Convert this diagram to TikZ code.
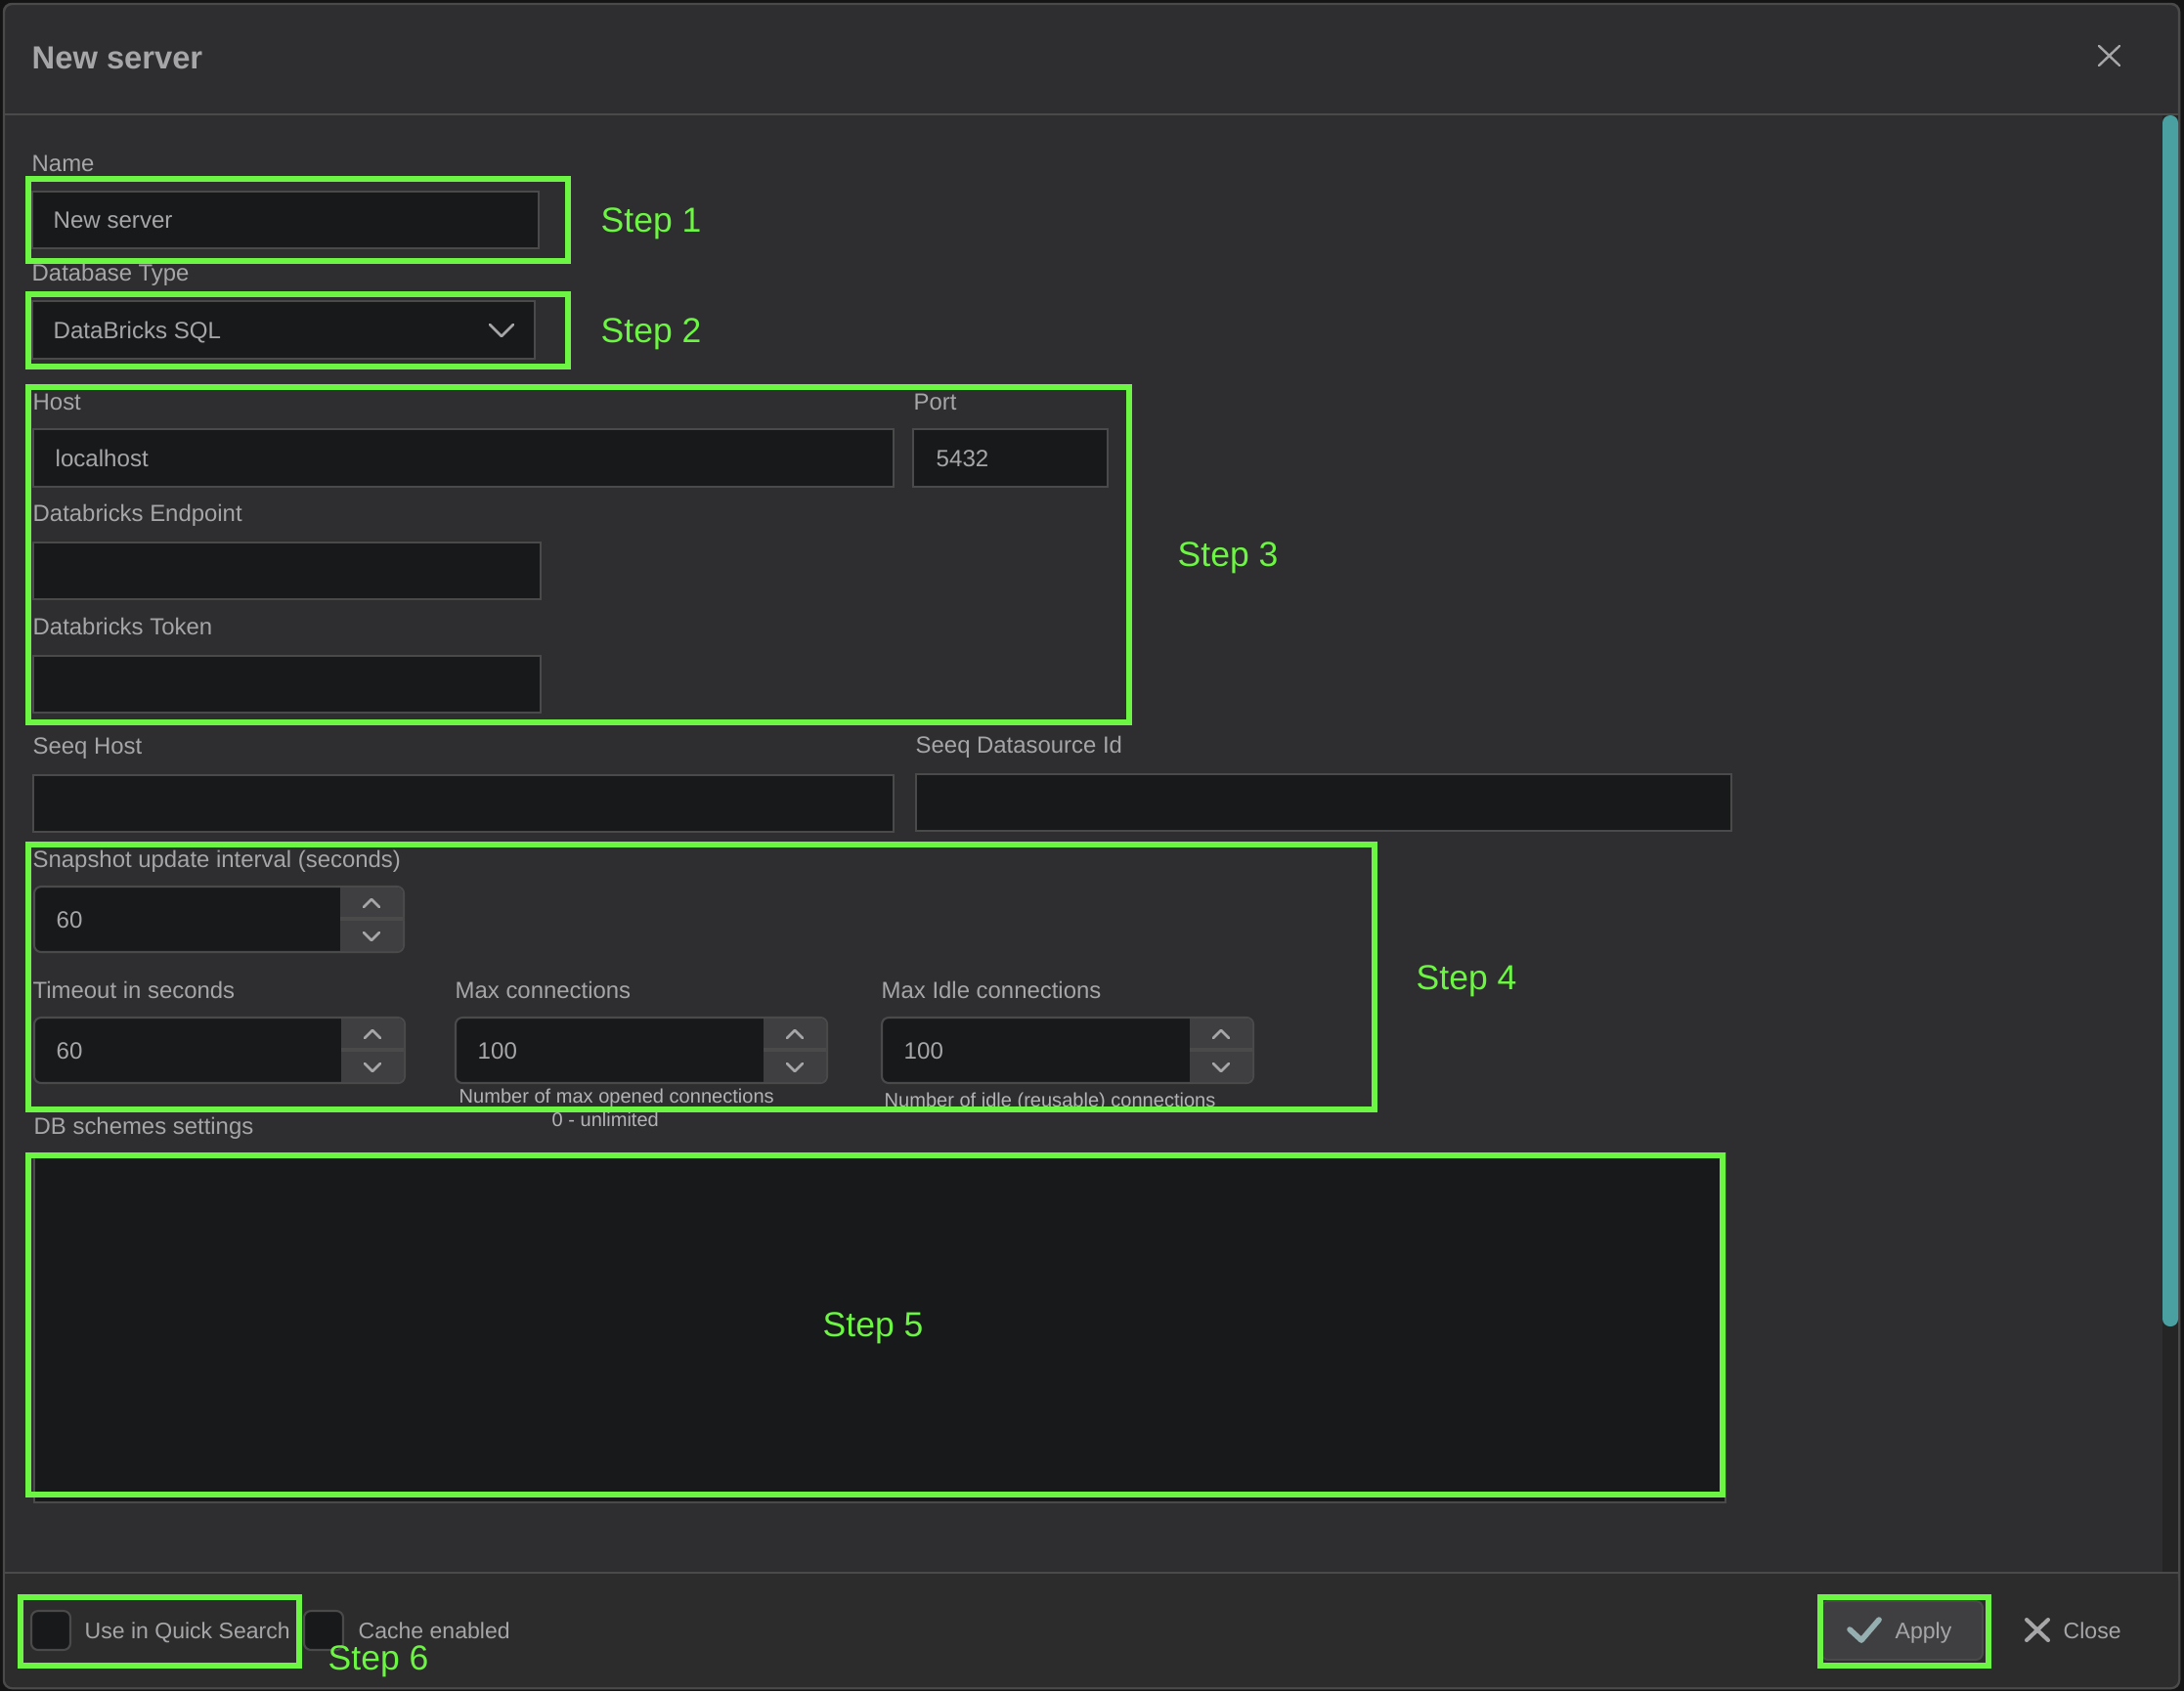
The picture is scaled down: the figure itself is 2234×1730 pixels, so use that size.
\documentclass[tikz,border=0pt]{standalone}
\usepackage{fontspec}
\setmainfont{Liberation Sans}
\usepackage{xcolor}

\definecolor{backdrop}{HTML}{141415}
\definecolor{panelbg}{HTML}{2E2E30}
\definecolor{footbg}{HTML}{2C2C2D}
\definecolor{fieldbg}{HTML}{18191B}
\definecolor{edgegray}{HTML}{4A4A4B}
\definecolor{btngray}{HTML}{3F3F41}
\definecolor{textgray}{HTML}{A6A6A8}
\definecolor{stepgreen}{HTML}{6CF542}
\definecolor{thumbteal}{HTML}{4A9FA1}
\definecolor{trackgray}{HTML}{252525}

\tikzset{
  fieldbox/.style={draw=edgegray, line width=0.6pt, fill=fieldbg},
  stepbox/.style={draw=stepgreen, line width=1.6pt},
  stepnote/.style={anchor=base west, inner sep=0pt, text=stepgreen, font=\fontsize{10.1}{12}\selectfont},
  lbl/.style={anchor=base west, inner sep=0pt, text=textgray, font=\fontsize{6.8}{8}\selectfont},
  val/.style={anchor=base west, inner sep=0pt, text=textgray, font=\fontsize{6.85}{9}\selectfont},
  hint/.style={anchor=base west, inner sep=0pt, text=textgray!85!white, font=\fontsize{5.7}{7}\selectfont},
  foot/.style={anchor=base west, inner sep=0pt, text=textgray, font=\fontsize{6.55}{8}\selectfont},
  chev/.style={draw=textgray, line width=0.75pt, line cap=round, line join=round},
}

\begin{document}
\begin{tikzpicture}[x=0.01cm, y=-0.01cm]
  \useasboundingbox (0,0) rectangle (2234,1730);
  % Backdrop and dialog
  \fill[backdrop] (0,0) rectangle (2234,1730);
  \draw[edgegray, line width=0.7pt, fill=panelbg, rounded corners=2.3pt] (4,4) rectangle (2229,1727);
  \fill[footbg, rounded corners=2.3pt] (5,1609) -- (5,1726) -- (2228,1726) -- (2228,1609) [sharp corners] -- cycle;
  \draw[edgegray, line width=0.57pt] (4,117) -- (2229,117);
  \draw[edgegray, line width=0.57pt] (4,1609) -- (2229,1609);

  % Scrollbar
  \fill[trackgray] (2212,118) rectangle (2228,1608);
  \fill[thumbteal, rounded corners=2.2pt] (2212,118) rectangle (2228,1357);

  % Title
  \node[anchor=base west, inner sep=0pt, text=textgray, font=\fontsize{9.3}{11}\bfseries\selectfont] (title) at (32,70) {New server};
  \draw[textgray, line width=0.68pt, line cap=round] (2147,47) -- (2168,67) (2168,47) -- (2147,67);

  % Plain fields
  \foreach \xa/\ya/\xb/\yb in {33/196/551/254, 33/308/547/367, 34/439/914/498, 934/439/1133/498,
    34/555/553/613, 34/671/553/729, 34/793/914/851, 937/792/1771/850, 35/1180/1765/1537}
    \draw[fieldbox] (\xa,\ya) rectangle (\xb,\yb);
  \draw[chev] (501,332) -- (513,344) -- (525,332);

  % Field labels
  \foreach \nm/\xx/\yy/\txt in {name/32/175/Name, dbtype/32/287/Database Type, host/33/419/Host, port/934/419/Port,
    endpoint/33/533/Databricks Endpoint, token/33/649/Databricks Token, seeqhost/33/771/Seeq Host,
    seeqid/936/770/Seeq Datasource Id, snapshot/33/887/Snapshot update interval (seconds),
    timeout/33/1021/Timeout in seconds, maxconn/465/1021/Max connections, maxidle/901/1021/Max Idle connections,
    schemes/34/1160/DB schemes settings}
    \node[lbl] (\nm) at (\xx,\yy) {\txt};

  % Field values
  \foreach \nm/\xx/\yy/\txt in {nameval/54/233/New server, dbval/54/346/DataBricks SQL, hostval/56/477/localhost, portval/957/477/5432}
    \node[val] (\nm) at (\xx,\yy) {\txt};

  % Spin boxes
  \foreach \nm/\xa/\xd/\xb/\ya/\txt in {snap/35/346/413/907/60, tout/35/347/414/1041/60, mconn/466/779/846/1041/100, midle/902/1215/1282/1041/100} {
    \draw[fieldbox, rounded corners=2pt] (\xa,\ya) rectangle (\xb,\ya+67);
    \fill[btngray] (\xd+2,\ya+1) [rounded corners=1.7pt] -- (\xb-1,\ya+1) -- (\xb-1,\ya+66) [sharp corners] -- (\xd+2,\ya+66) -- cycle;
    \fill[edgegray] (\xd+2,\ya+31) rectangle (\xb-1,\ya+35);
    \draw[chev] (\xd+26,\ya+21) -- (\xd+34,\ya+13) -- (\xd+42,\ya+21);
    \draw[chev] (\xd+26,\ya+47) -- (\xd+34,\ya+55) -- (\xd+42,\ya+47);
    \node[val] (\nm) at (\xa+22,\ya+42) {\txt};
  }

  % Hints
  \node[hint] (maxhint) at (469,1128) {Number of max opened connections};
  \node[hint] (maxzero) at (564,1152) {0 - unlimited};
  \node[hint] (idlehint) at (904,1132) {Number of idle (reusable) connections};

  % Footer
  \foreach \xa in {32,311}
    \draw[fieldbox, rounded corners=2pt] (\xa,1648) rectangle ++(40,40);
  \node[foot] (quick) at (86,1676) {Use in Quick Search};
  \node[foot] (cache) at (366,1676) {Cache enabled};
  \draw[edgegray, line width=0.57pt, fill=btngray, rounded corners=2pt] (1863,1638) rectangle (2028,1698);
  \draw[textgray!90!cyan, line width=1.6pt, line join=round, line cap=round] (1892,1667) -- (1904,1678) -- (1922,1657);
  \node[foot] (apply) at (1938,1676) {Apply};
  \draw[textgray, line width=1.15pt, line cap=round] (2073,1657) -- (2095,1678) (2095,1657) -- (2073,1678);
  \node[foot] (close) at (2110,1676) {Close};

  % Green marks
  \foreach \xa/\ya/\xb/\yb in {29/183/581/267, 29/301/581/375, 29/396/1155/739, 29/864/1406/1135, 29/1182/1762/1529,
    21/1634/306/1704, 1862/1634/2034/1704}
    \draw[stepbox] (\xa,\ya) rectangle (\xb,\yb);
  \foreach \nm/\xx/\yy/\txt in {stepa/614/237/Step 1, stepb/614/350/Step 2, stepc/1204/579/Step 3, stepd/1448/1012/Step 4,
    stepe/841/1367/Step 5, stepf/335/1708/Step 6}
    \node[stepnote] (\nm) at (\xx,\yy) {\txt};
\end{tikzpicture}
\end{document}
